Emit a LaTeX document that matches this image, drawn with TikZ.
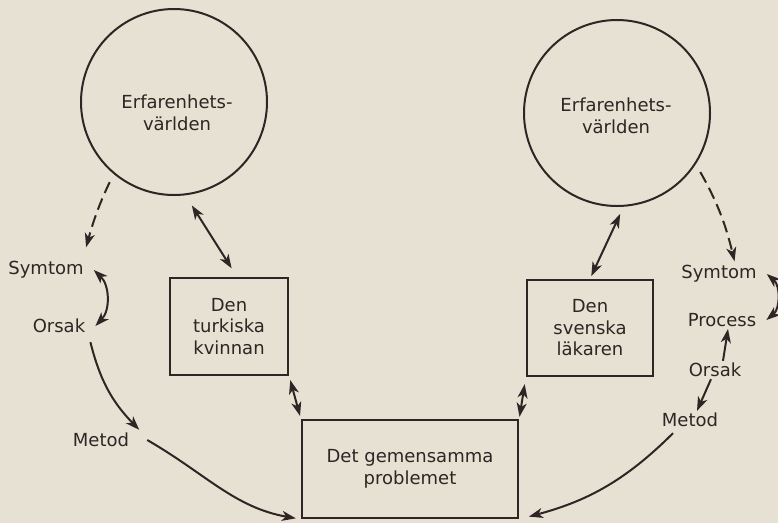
\documentclass[tikz,border=0pt]{standalone}
\usepackage{fontspec}
\setmainfont{DejaVu Sans}
\usepackage{tikz}
\usetikzlibrary{arrows.meta,positioning,calc}
\definecolor{PaperBeige}{RGB}{231,225,211}
\definecolor{InkBrown}{RGB}{48,36,36}

\begin{document}
\begin{tikzpicture}[x=1pt, y=1pt,
    every node/.style={text=InkBrown, font=\fontsize{18}{21.5}\selectfont, inner sep=2pt},
    world/.style={draw=InkBrown, circle, line width=2pt, minimum size=186pt},
    party/.style={draw=InkBrown, rectangle, line width=2.4pt, align=center},
    link/.style={draw=InkBrown, line width=2pt, -{Stealth[length=14pt,width=10pt,inset=4pt]}},
    twoway/.style={link, {Stealth[length=14pt,width=10pt,inset=4pt]}-{Stealth[length=14pt,width=10pt,inset=4pt]}},
    hint/.style={link, dash pattern=on 12pt off 6pt}
]
    \path[use as bounding box, fill=PaperBeige] (0,0) rectangle (778,-523);

    % the two worlds of experience
    \node[world] (lcirc) at (174,-102) {};
    \node[align=center] (ltext) at (177,-113) {Erfarenhets-\\världen};
    \node[world] (rcirc) at (617,-113) {};
    \node[align=center] (rtext) at (616,-116) {Erfarenhets-\\världen};

    % the parties and the shared problem
    \node[party, minimum width=118pt, minimum height=97pt] (lbox) at (229,-326.5) {Den\\turkiska\\kvinnan};
    \node[party, minimum width=126pt, minimum height=96pt] (rbox) at (590,-328) {Den\\svenska\\läkaren};
    \node[party, minimum width=216pt, minimum height=98pt] (pbox) at (410,-469) {Det gemensamma\\problemet};

    % left chain
    \node (lsym) at (46,-270) {Symtom};
    \node (lors) at (59,-326) {Orsak};
    \node (lmet) at (101,-440) {Metod};

    % right chain
    \node (rsym) at (719,-274) {Symtom};
    \node (rproc) at (722,-320) {Process};
    \node (rors) at (715,-370) {Orsak};
    \node (rmet) at (690,-420) {Metod};

    \draw[hint, shorten <=9pt, shorten >=1pt] (lcirc.230) to[bend right=5] ([yshift=11]lsym.north east);
    \draw[twoway, shorten <=12pt, shorten >=10pt] (lcirc.-83) -- ([xshift=8]lbox.north);
    \draw[twoway] ([xshift=8]lsym.east) to[bend left=45] ([xshift=8]lors.east);
    \draw[link] ([shift={(3,-7)}]lors.south east) to[bend right=15] ([shift={(8,1)}]lmet.north east);
    \draw[link, shorten >=5pt] ([xshift=16]lmet.east) to[out=-30, in=170] (pbox.south west);
    \draw[twoway, shorten <=4pt, shorten >=3pt] (lbox.south east) -- (pbox.north west);

    \draw[hint, shorten <=9pt, shorten >=2pt] (rcirc.-33) to[bend left=8] ([xshift=16]rsym.north);
    \draw[twoway, shorten <=8pt, shorten >=3pt] (rcirc.-86) -- (rbox.north);
    \draw[twoway] ([xshift=8]rsym.east) to[bend left=50] ([xshift=8]rproc.east);
    \draw[link] ([xshift=8]rors.north) -- ([xshift=6]rproc.south);
    \draw[link] ([xshift=-4]rors.south) -- ([xshift=7]rmet.north);
    \draw[link, shorten >=10pt] ([shift={(-17,-4)}]rmet.south) to[out=225, in=15] (pbox.south east);
    \draw[twoway, shorten <=7pt, shorten >=2pt] (rbox.south west) -- (pbox.north east);
\end{tikzpicture}
\end{document}
